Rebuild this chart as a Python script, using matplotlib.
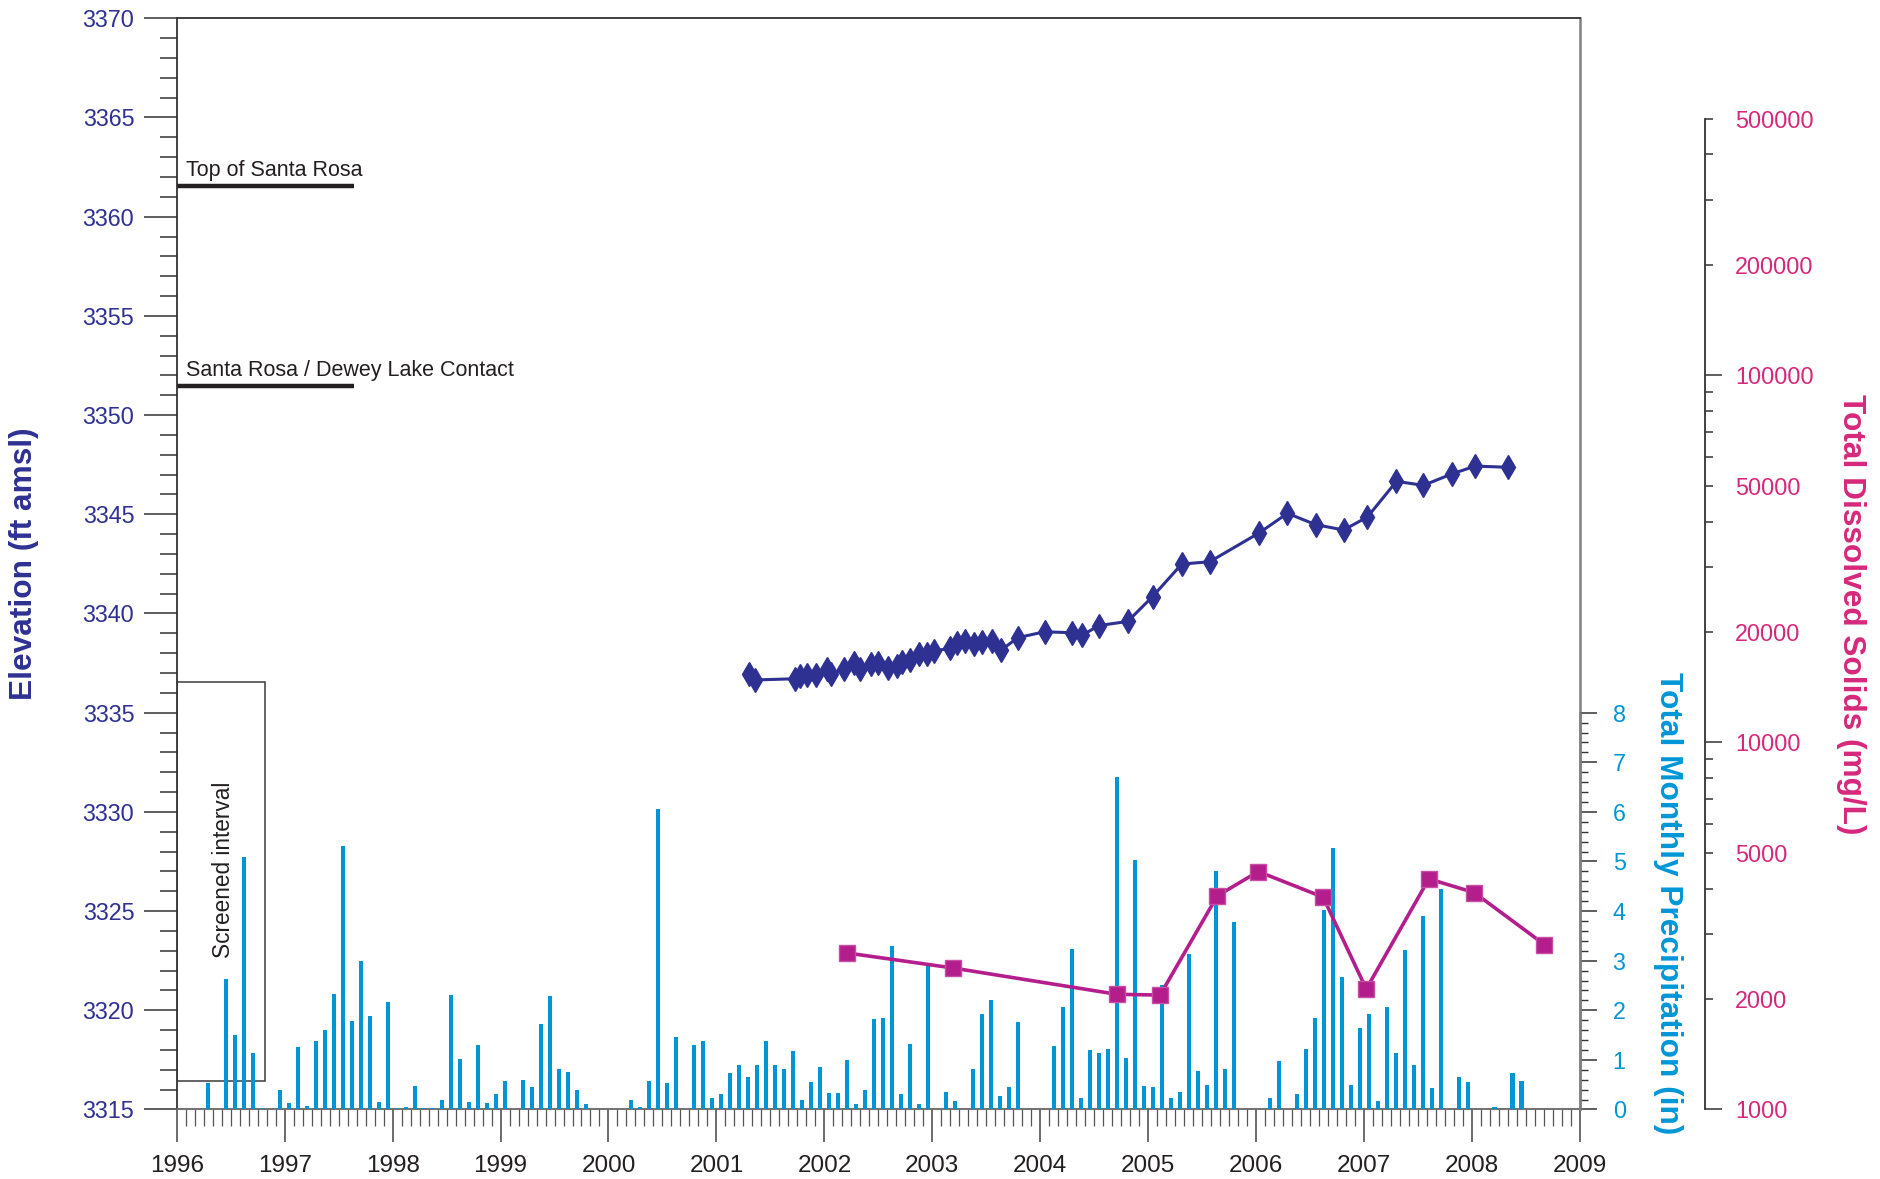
import matplotlib
matplotlib.use("Agg")
import matplotlib.pyplot as plt
from matplotlib.patches import Rectangle
from matplotlib.ticker import MultipleLocator, FixedLocator, FuncFormatter
import numpy as np

plt.rcParams['font.family'] = ['Liberation Sans', 'DejaVu Sans']

# Monthly precipitation (in), Jan..Dec
precip_1996 = [0, 0, 0, 0.54, 0, 2.64, 1.51, 5.10, 1.13, 0.04, 0, 0.40]
precip_1997 = [0.14, 1.25, 0.08, 1.39, 1.61, 2.32, 5.32, 1.79, 3.00, 1.88, 0.16, 2.16]
precip_1998 = [0.04, 0.06, 0.48, 0.04, 0.04, 0.20, 2.30, 1.01, 0.16, 1.31, 0.14, 0.32]
precip_1999 = [0.58, 0, 0.60, 0.46, 1.73, 2.28, 0.81, 0.75, 0.40, 0.12, 0, 0]
precip_2000 = [0, 0, 0.20, 0.06, 0.58, 6.05, 0.54, 1.47, 0, 1.31, 1.39, 0.24]
precip_2001 = [0.32, 0.73, 0.89, 0.65, 0.89, 1.39, 0.89, 0.81, 1.17, 0.20, 0.56, 0.85]
precip_2002 = [0.34, 0.34, 0.99, 0.12, 0.40, 1.83, 1.85, 3.29, 0.32, 1.33, 0.12, 2.92]
precip_2003 = [0, 0.36, 0.18, 0, 0.81, 1.92, 2.20, 0.28, 0.46, 1.77, 0, 0]
precip_2004 = [0, 1.29, 2.06, 3.23, 0.24, 1.19, 1.13, 1.21, 6.71, 1.03, 5.04, 0.48]
precip_2005 = [0.46, 2.52, 0.24, 0.36, 3.13, 0.77, 0.50, 4.80, 0.81, 3.79, 0, 0]
precip_2006 = [0, 0.24, 0.97, 0, 0.32, 1.21, 1.85, 4.03, 5.28, 2.68, 0.50, 1.65]
precip_2007 = [1.92, 0.18, 2.06, 1.13, 3.21, 0.89, 3.91, 0.44, 4.44, 0, 0.65, 0.56]
precip_2008 = [0, 0, 0.06, 0, 0.73, 0.58]

# Groundwater elevation (ft amsl)
elev_dates = [2001.30, 2001.355, 2001.73, 2001.77, 2001.84, 2001.92, 2002.02, 2002.06,
              2002.18, 2002.27, 2002.33, 2002.43, 2002.50, 2002.59, 2002.67, 2002.72,
              2002.79, 2002.88, 2002.95, 2003.02, 2003.16, 2003.23, 2003.30, 2003.39,
              2003.46, 2003.55, 2003.64, 2003.79, 2004.04, 2004.29, 2004.39, 2004.54,
              2004.81, 2005.04, 2005.31, 2005.57, 2006.03, 2006.29, 2006.55, 2006.81,
              2007.03, 2007.30, 2007.55, 2007.81, 2008.03, 2008.33]
elev_ft = [3336.95, 3336.65, 3336.71, 3336.85, 3336.88, 3336.88, 3337.19, 3336.95,
           3337.19, 3337.52, 3337.19, 3337.44, 3337.49, 3337.27, 3337.35, 3337.56,
           3337.66, 3337.94, 3337.94, 3338.11, 3338.25, 3338.53, 3338.63, 3338.48,
           3338.56, 3338.61, 3338.16, 3338.78, 3339.08, 3339.03, 3338.90, 3339.39,
           3339.60, 3340.85, 3342.49, 3342.61, 3344.07, 3345.05, 3344.48, 3344.21,
           3344.86, 3346.66, 3346.46, 3347.03, 3347.43, 3347.37]

# Total dissolved solids (mg/L)
tds_dates = [2002.21, 2003.19, 2004.71, 2005.11, 2005.64, 2006.02, 2006.62,
             2007.02, 2007.60, 2008.02, 2008.67]
tds_mgl = [2670, 2430, 2060, 2050, 3820, 4450, 3790, 2130, 4250, 3900, 2815]

# Formation levels and screened interval (ft amsl)
top_santa_rosa = 3361.56
dewey_contact = 3351.48
screen_top = 3336.53
screen_bottom = 3316.46

precip = (precip_1996 + precip_1997 + precip_1998 + precip_1999 + precip_2000 +
          precip_2001 + precip_2002 + precip_2003 + precip_2004 + precip_2005 +
          precip_2006 + precip_2007 + precip_2008)
months = 1996 + (np.arange(len(precip)) + 0.5) / 12

c_elev = '#2e3192'
c_rain = '#0096d6'
c_tds = '#b41e8c'
c_tds_txt = '#d6287b'
c_dark = '#231f20'

fig = plt.figure(figsize=(18.81, 11.79), dpi=100)
ax = fig.add_axes([0.09394, 0.05895, 0.74604, 0.92553])

# elevation axis
ax.set_xlim(1996, 2009)
ax.set_ylim(3315, 3370)
ax.plot(elev_dates, elev_ft, color=c_elev, lw=2.2, marker='d', ms=12,
        markeredgecolor=c_elev, zorder=5)

ax.plot([1996, 1997.64], [top_santa_rosa] * 2, color=c_dark, lw=3.2, solid_capstyle='butt')
ax.text(1996.09, top_santa_rosa + 0.5, 'Top of Santa Rosa', fontsize=15.5, color=c_dark)
ax.plot([1996, 1997.64], [dewey_contact] * 2, color=c_dark, lw=3.2, solid_capstyle='butt')
ax.text(1996.09, dewey_contact + 0.5, 'Santa Rosa / Dewey Lake Contact', fontsize=15.5, color=c_dark)
ax.add_patch(Rectangle((1996, screen_bottom), 0.82, screen_top - screen_bottom,
                       fill=False, edgecolor='#3a3a3a', lw=1.1))
ax.text(1996.43, 3327.1, 'Screened interval', rotation=90,
        ha='center', va='center', fontsize=16.3, color=c_dark)

ax.yaxis.set_major_locator(MultipleLocator(5))
ax.yaxis.set_minor_locator(MultipleLocator(1))
ax.xaxis.set_major_locator(MultipleLocator(1))
ax.xaxis.set_minor_locator(MultipleLocator(1 / 12))
ax.xaxis.set_major_formatter(FuncFormatter(lambda v, p: f"{v:.0f}"))
ax.tick_params(axis='y', which='major', length=24, width=1.1, pad=6.5,
               labelsize=16.8, labelcolor=c_elev, color='#333333')
ax.tick_params(axis='y', which='minor', length=12, width=1.1, color='#333333')
ax.tick_params(axis='x', which='major', length=24, width=1.1, pad=8.5,
               labelsize=17.5, labelcolor=c_dark, color='#444444')
ax.tick_params(axis='x', which='minor', length=12, width=0.9, color='#555555')
for s in ['left', 'top']:
    ax.spines[s].set_linewidth(1.3)
    ax.spines[s].set_color('#333333')
ax.spines['bottom'].set_color('#666666')
ax.spines['bottom'].set_linewidth(1.3)
ax.spines['right'].set_color('#808080')
ax.spines['right'].set_linewidth(1.8)

# precipitation axis
axp = ax.twinx()
axp.bar(months, precip, width=0.038, color=c_rain, zorder=2)
axp.set_ylim(0, 22)
for s in ['left', 'top', 'bottom']:
    axp.spines[s].set_visible(False)
axp.spines['right'].set_bounds(0, 8)
axp.spines['right'].set_color('#808080')
axp.spines['right'].set_linewidth(1.8)
axp.yaxis.set_major_locator(FixedLocator(range(9)))
axp.yaxis.set_minor_locator(FixedLocator(np.arange(0, 8.01, 0.2)))
axp.tick_params(axis='y', which='major', length=12, width=1.1, pad=11.5,
                labelsize=16.8, labelcolor=c_rain, color='#333333')
axp.tick_params(axis='y', which='minor', length=6, width=1.0, color='#333333')

# TDS axis
axt = ax.twinx()
axt.set_yscale('log')
axt.plot(tds_dates, tds_mgl, color=c_tds, lw=2.6, marker='s', ms=12,
         markeredgecolor='#c84ea2', markeredgewidth=1.0, zorder=6)
axt.set_ylim(1000, 940000)
for s in ['left', 'top', 'bottom']:
    axt.spines[s].set_visible(False)
axt.spines['right'].set_position(('axes', 1.0892))
axt.spines['right'].set_bounds(1000, 500000)
axt.spines['right'].set_color('#333333')
axt.spines['right'].set_linewidth(1.3)
tds_major = [1000, 10000, 100000]
tds_minor = [m * d for d in (1000, 10000, 100000) for m in range(2, 10) if m * d <= 500000]
axt.yaxis.set_major_locator(FixedLocator(tds_major))
axt.yaxis.set_minor_locator(FixedLocator(tds_minor))
axt.yaxis.set_major_formatter(FuncFormatter(lambda v, p: f"{v:.0f}"))
axt.yaxis.set_minor_formatter(FuncFormatter(
    lambda v, p: f"{v:.0f}" if str(int(round(v)))[0] in '25' else ''))
axt.tick_params(axis='y', which='major', length=12, width=1.1, pad=9.4,
                labelsize=16.8, labelcolor=c_tds_txt, color='#333333')
axt.tick_params(axis='y', which='minor', length=6, width=1.1, pad=15.4,
                labelsize=16.8, labelcolor=c_tds_txt, color='#333333')

# axis titles
fig.text(0.01276, 0.5216, 'Elevation (ft amsl)', rotation=90, ha='center', va='center',
         fontsize=22.8, fontweight='bold', color=c_elev)
fig.text(0.8870, 0.2336, 'Total Monthly Precipitation (in)', rotation=270, ha='center',
         va='center', fontsize=22.8, fontweight='bold', color=c_rain)
fig.text(0.9840, 0.4792, 'Total Dissolved Solids (mg/L)', rotation=270, ha='center',
         va='center', fontsize=22.8, fontweight='bold', color=c_tds_txt)

fig.savefig('out.png', dpi=100)
